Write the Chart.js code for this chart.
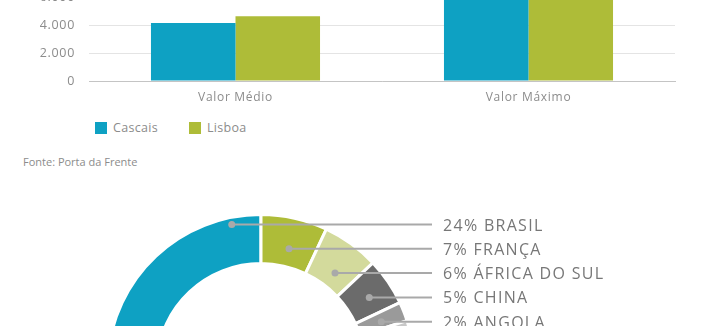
<!DOCTYPE html>
<html>
<head>
<meta charset="utf-8">
<script src="https://cdn.jsdelivr.net/npm/chart.js@4/dist/chart.umd.min.js"></script>
<style>
    html, body { margin: 0; padding: 0; background: #fff; }
    body { width: 712px; height: 326px; overflow: hidden; position: relative; font-family: "Open Sans", sans-serif; }
    #barWrap { position: absolute; left: 0; top: -80px; width: 712px; height: 191px; }
    #donutWrap { position: absolute; left: 0; top: 200px; width: 712px; height: 330px; }
    .legend { position: absolute; top: 122px; font-size: 12.5px; color: #8c8c8c; line-height: 12px; letter-spacing: 0.3px; }
    .legend span.box { display: inline-block; width: 12px; height: 12px; vertical-align: top; margin-right: 6px; }
    .fonte { position: absolute; left: 23px; top: 154px; font-size: 11px; color: #8c8c8c; }
</style>
</head>
<body>
<div id="barWrap"><canvas id="barChart"></canvas></div>
<div class="legend" id="legCascais" style="left:95px"><span class="box"></span>Cascais</div>
<div class="legend" id="legLisboa" style="left:189px"><span class="box"></span>Lisboa</div>
<div class="fonte">Fonte: Porta da Frente</div>
<div id="donutWrap"><canvas id="donutChart"></canvas></div>
<script>
// dados do gráfico de barras
const categorias = ['Valor Médio', 'Valor Máximo'];
const cascais = [4150, 9600];
const lisboa = [4650, 9100];
const yTicks = [0, 2000, 4000, 6000, 8000, 10000];

// dados do gráfico circular
const paises = ['BRASIL', 'FRANÇA', 'ÁFRICA DO SUL', 'CHINA', 'ANGOLA', 'OUTROS'];
const percentagens = [24, 7, 6, 5, 2, 56];

const corCascais = '#0ea1c3';
const corLisboa = '#aebc38';
const corTexto = '#8c8c8c';

document.querySelector('#legCascais .box').style.background = corCascais;
document.querySelector('#legLisboa .box').style.background = corLisboa;

// formato 4.000
function formatar(v) {
    return String(v).replace(/\B(?=(\d{3})+(?!\d))/g, '.');
}

// espaçamento entre letras nos eixos
const espacamento = {
    id: 'espacamento',
    beforeDraw(chart) { chart.ctx.letterSpacing = '0.7px'; },
    afterDraw(chart) { chart.ctx.letterSpacing = '0px'; }
};

new Chart(document.getElementById('barChart'), {
    type: 'bar',
    data: {
        labels: categorias,
        datasets: [{
            label: 'Cascais',
            data: cascais,
            backgroundColor: corCascais,
            categoryPercentage: 0.577,
            barPercentage: 1
        }, {
            label: 'Lisboa',
            data: lisboa,
            backgroundColor: corLisboa,
            categoryPercentage: 0.577,
            barPercentage: 1
        }]
    },
    options: {
        responsive: true,
        maintainAspectRatio: false,
        animation: false,
        layout: { padding: { top: 20, right: 37, left: 0, bottom: 0 } },
        plugins: { legend: { display: false }, tooltip: { enabled: false } },
        scales: {
            x: {
                grid: { display: false, drawTicks: false },
                border: { display: true, color: '#c4c4c4', width: 1 },
                ticks: { color: corTexto, padding: 9, font: { family: 'Open Sans', size: 12 } },
                afterFit: s => { s.height = 30; }
            },
            y: {
                min: yTicks[0],
                max: yTicks[yTicks.length - 1],
                afterBuildTicks: s => { s.ticks = yTicks.map(v => ({ value: v })); },
                grid: { color: '#e4e4e4', drawTicks: false },
                border: { display: false },
                ticks: {
                    color: corTexto,
                    padding: 14,
                    font: { family: 'Open Sans', size: 12.5 },
                    callback: v => formatar(v)
                },
                afterFit: s => { s.width = 89; }
            }
        }
    },
    plugins: [espacamento]
});

// linhas e textos das legendas do donut
const linhasLegenda = {
    id: 'linhasLegenda',
    afterDatasetsDraw(chart) {
        const ctx = chart.ctx;
        const area = chart.chartArea;
        const arcs = chart.getDatasetMeta(0).data;
        ctx.save();
        arcs.forEach((arc, i) => {
            const y = area.top + 11.5 + i * 24.3;
            const xs = [];
            for (let x = arc.x - arc.outerRadius; x <= arc.x + arc.outerRadius; x += 0.5) {
                if (arc.inRange(x, y)) xs.push(x);
            }
            if (!xs.length) return;
            const dotX = (xs[0] + xs[xs.length - 1]) / 2;
            const fimX = area.right + 16;
            ctx.strokeStyle = '#a9a9a9';
            ctx.lineWidth = 2;
            ctx.beginPath();
            ctx.moveTo(dotX, y);
            ctx.lineTo(fimX, y);
            ctx.stroke();
            ctx.fillStyle = '#a9a9a9';
            ctx.beginPath();
            ctx.arc(dotX, y, 3.5, 0, Math.PI * 2);
            ctx.fill();
            ctx.fillStyle = '#777777';
            ctx.font = '16px "Open Sans"';
            ctx.letterSpacing = '1.3px';
            ctx.textBaseline = 'middle';
            ctx.textAlign = 'left';
            ctx.fillText(percentagens[i] + '% ' + paises[i], fimX + 11, y + 1.5);
        });
        ctx.restore();
    }
};

new Chart(document.getElementById('donutChart'), {
    type: 'doughnut',
    data: {
        labels: paises,
        datasets: [{
            data: percentagens,
            backgroundColor: [corCascais, corLisboa, '#d3da9c', '#6b6b6b', '#9a9a9a', '#c8c8c8'],
            borderColor: '#fff',
            borderWidth: 3
        }]
    },
    options: {
        responsive: true,
        maintainAspectRatio: false,
        animation: false,
        cutout: '68%',
        rotation: -percentagens[0] * 3.6,
        layout: { padding: { top: 13, left: 106, right: 296, bottom: 7 } },
        plugins: { legend: { display: false }, tooltip: { enabled: false } }
    },
    plugins: [linhasLegenda]
});
</script>
</body>
</html>
